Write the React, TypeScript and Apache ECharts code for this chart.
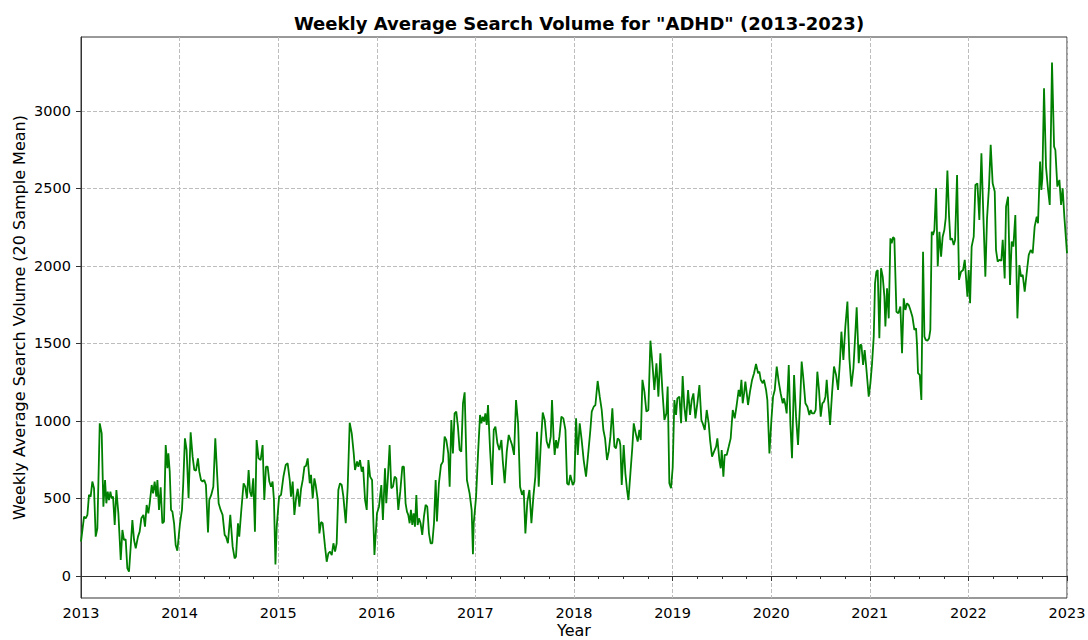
import React, { useEffect, useRef } from "react";
import * as echarts from "echarts";

const titleText = 'Weekly Average Search Volume for "ADHD" (2013-2023)';
const xName = "Year";
const yName = "Weekly Average Search Volume (20 Sample Mean)";
const yTicks = [0, 500, 1000, 1500, 2000, 2500, 3000];

// [decimal year, weekly average search volume]
const y2013: [number, number][] = [[2013.000,221],[2013.031,383],[2013.048,372],[2013.065,394],[2013.081,523],[2013.098,512],[2013.115,609],[2013.132,566],[2013.149,254],[2013.166,308],[2013.190,985],[2013.210,920],[2013.227,447],[2013.244,619],[2013.257,469],[2013.271,544],[2013.284,490],[2013.298,544],[2013.311,501],[2013.325,512],[2013.342,329],[2013.359,555],[2013.379,404],[2013.403,103],[2013.420,297],[2013.436,232],[2013.453,237],[2013.470,49],[2013.487,28],[2013.504,189],[2013.521,361],[2013.538,232],[2013.555,178],[2013.578,254],[2013.595,286],[2013.612,372],[2013.633,394],[2013.649,318],[2013.666,458],[2013.683,404],[2013.697,469],[2013.717,587],[2013.731,533],[2013.747,609],[2013.764,512],[2013.775,619],[2013.791,426],[2013.808,572],[2013.825,340],[2013.842,351],[2013.859,845],[2013.876,695],[2013.886,791],[2013.900,673],[2013.913,426],[2013.927,415],[2013.944,340],[2013.960,200],[2013.977,163]];
const y2014: [number, number][] = [[2014.004,340],[2014.024,426],[2014.037,598],[2014.054,888],[2014.071,813],[2014.091,501],[2014.112,927],[2014.132,770],[2014.149,684],[2014.166,680],[2014.186,759],[2014.200,673],[2014.217,619],[2014.233,609],[2014.250,619],[2014.267,587],[2014.288,280],[2014.301,490],[2014.321,523],[2014.342,576],[2014.362,888],[2014.382,641],[2014.396,469],[2014.416,426],[2014.436,394],[2014.457,265],[2014.470,254],[2014.490,211],[2014.514,394],[2014.538,189],[2014.558,114],[2014.572,125],[2014.592,340],[2014.605,254],[2014.626,426],[2014.649,598],[2014.666,576],[2014.683,501],[2014.700,684],[2014.714,544],[2014.730,512],[2014.747,630],[2014.764,286],[2014.781,877],[2014.801,759],[2014.822,748],[2014.842,845],[2014.859,490],[2014.876,705],[2014.893,705],[2014.910,609],[2014.927,576],[2014.943,609],[2014.957,490],[2014.972,75]];
const y2015: [number, number][] = [[2014.985,318],[2015.009,512],[2015.029,523],[2015.053,641],[2015.076,716],[2015.096,727],[2015.117,619],[2015.130,512],[2015.147,609],[2015.164,394],[2015.181,501],[2015.198,563],[2015.215,447],[2015.232,563],[2015.249,620],[2015.266,705],[2015.282,710],[2015.299,759],[2015.320,598],[2015.333,652],[2015.350,501],[2015.367,630],[2015.380,587],[2015.401,490],[2015.418,275],[2015.435,348],[2015.451,340],[2015.475,189],[2015.492,92],[2015.509,146],[2015.526,157],[2015.543,135],[2015.560,211],[2015.577,157],[2015.593,211],[2015.610,555],[2015.627,598],[2015.644,587],[2015.661,512],[2015.685,340],[2015.705,576],[2015.725,989],[2015.746,920],[2015.766,791],[2015.779,684],[2015.800,738],[2015.813,705],[2015.830,748],[2015.847,673],[2015.861,705],[2015.881,490],[2015.898,426],[2015.915,748],[2015.932,641],[2015.952,619],[2015.976,135]];
const y2016: [number, number][] = [[2016.002,404],[2016.022,447],[2016.046,587],[2016.062,361],[2016.083,695],[2016.096,469],[2016.113,641],[2016.130,845],[2016.147,566],[2016.164,576],[2016.181,641],[2016.198,630],[2016.218,426],[2016.238,544],[2016.259,705],[2016.275,705],[2016.292,469],[2016.306,415],[2016.319,394],[2016.333,340],[2016.346,426],[2016.360,329],[2016.373,404],[2016.387,318],[2016.401,523],[2016.414,329],[2016.428,372],[2016.444,340],[2016.461,265],[2016.478,383],[2016.495,458],[2016.512,447],[2016.529,275],[2016.546,211],[2016.563,211],[2016.580,340],[2016.597,619],[2016.610,351],[2016.630,598],[2016.651,716],[2016.671,738],[2016.688,899],[2016.705,877],[2016.725,791],[2016.739,576],[2016.756,1006],[2016.772,791],[2016.789,1049],[2016.806,1060],[2016.823,963],[2016.840,813],[2016.857,802],[2016.874,1114],[2016.891,1185],[2016.914,619],[2016.941,533],[2016.962,426],[2016.975,140]];
const y2017: [number, number][] = [[2016.983,340],[2017.007,512],[2017.027,791],[2017.047,1039],[2017.061,985],[2017.074,1028],[2017.088,996],[2017.101,1049],[2017.115,974],[2017.128,1103],[2017.149,813],[2017.169,587],[2017.186,942],[2017.203,963],[2017.223,856],[2017.243,813],[2017.264,877],[2017.277,748],[2017.297,598],[2017.318,802],[2017.338,910],[2017.355,877],[2017.372,845],[2017.392,781],[2017.412,1135],[2017.433,985],[2017.453,576],[2017.473,523],[2017.490,555],[2017.507,275],[2017.527,480],[2017.548,555],[2017.568,340],[2017.588,512],[2017.608,641],[2017.625,931],[2017.642,576],[2017.662,834],[2017.683,1054],[2017.703,1006],[2017.723,867],[2017.744,824],[2017.764,899],[2017.777,1135],[2017.794,877],[2017.804,781],[2017.818,877],[2017.832,824],[2017.852,899],[2017.872,1028],[2017.892,1017],[2017.913,942],[2017.930,598],[2017.946,587],[2017.963,652]];
const y2018: [number, number][] = [[2017.987,587],[2018.004,609],[2018.021,1017],[2018.038,781],[2018.058,985],[2018.078,877],[2018.098,748],[2018.122,641],[2018.146,802],[2018.166,942],[2018.180,1060],[2018.200,1092],[2018.217,1103],[2018.240,1258],[2018.261,1157],[2018.281,1071],[2018.298,942],[2018.315,888],[2018.335,748],[2018.352,802],[2018.369,899],[2018.389,1082],[2018.410,834],[2018.426,824],[2018.443,888],[2018.460,877],[2018.470,845],[2018.484,587],[2018.504,845],[2018.521,662],[2018.538,555],[2018.552,490],[2018.572,662],[2018.592,834],[2018.606,985],[2018.626,920],[2018.646,867],[2018.663,942],[2018.677,877],[2018.694,1265],[2018.714,1189],[2018.734,1060],[2018.754,1071],[2018.775,1518],[2018.795,1372],[2018.815,1200],[2018.836,1372],[2018.856,1157],[2018.876,1437],[2018.896,1200],[2018.917,1006],[2018.937,1049],[2018.950,1222],[2018.967,598],[2018.984,566]];
const y2019: [number, number][] = [[2019.001,700],[2019.018,1135],[2019.035,1039],[2019.048,1146],[2019.069,1157],[2019.086,985],[2019.102,1290],[2019.119,1092],[2019.136,996],[2019.157,1200],[2019.177,1039],[2019.194,1135],[2019.211,1178],[2019.231,1017],[2019.251,1114],[2019.272,1232],[2019.292,1006],[2019.305,985],[2019.326,942],[2019.346,1071],[2019.366,985],[2019.380,877],[2019.400,770],[2019.420,802],[2019.441,834],[2019.454,888],[2019.474,748],[2019.488,695],[2019.498,813],[2019.515,640],[2019.528,781],[2019.549,781],[2019.569,834],[2019.589,888],[2019.610,1071],[2019.630,1017],[2019.650,1103],[2019.670,1200],[2019.684,1157],[2019.698,1265],[2019.711,1114],[2019.725,1178],[2019.738,1254],[2019.752,1178],[2019.765,1103],[2019.785,1189],[2019.806,1265],[2019.826,1308],[2019.846,1368],[2019.867,1308],[2019.880,1318],[2019.894,1265],[2019.914,1243],[2019.927,1265],[2019.948,1200],[2019.961,1135],[2019.982,791]];
const y2020: [number, number][] = [[2020.002,1006],[2020.019,1157],[2020.036,1200],[2020.056,1351],[2020.076,1254],[2020.096,1178],[2020.117,1114],[2020.130,1146],[2020.144,1103],[2020.157,1049],[2020.178,1361],[2020.195,974],[2020.211,759],[2020.232,1297],[2020.252,1028],[2020.272,845],[2020.293,1114],[2020.309,1383],[2020.326,1275],[2020.347,1114],[2020.367,1092],[2020.387,1039],[2020.401,1071],[2020.414,1049],[2020.435,1049],[2020.451,1071],[2020.468,1318],[2020.485,1200],[2020.502,1028],[2020.519,1114],[2020.536,1125],[2020.550,1157],[2020.563,1265],[2020.577,1135],[2020.597,974],[2020.617,1178],[2020.637,1351],[2020.658,1297],[2020.678,1200],[2020.698,1394],[2020.712,1576],[2020.732,1394],[2020.752,1609],[2020.773,1770],[2020.793,1404],[2020.813,1222],[2020.834,1340],[2020.854,1576],[2020.867,1733],[2020.888,1372],[2020.901,1490],[2020.915,1490],[2020.932,1361],[2020.948,1458],[2020.962,1361]];
const y2021: [number, number][] = [[2020.989,1157],[2021.006,1243],[2021.023,1372],[2021.040,1544],[2021.053,1888],[2021.067,1963],[2021.080,1974],[2021.097,1533],[2021.114,1985],[2021.131,1931],[2021.148,1802],[2021.158,1609],[2021.175,1856],[2021.192,1662],[2021.209,2178],[2021.222,2146],[2021.236,2185],[2021.249,2178],[2021.270,1705],[2021.290,1695],[2021.310,1738],[2021.327,1437],[2021.344,1791],[2021.361,1716],[2021.378,1759],[2021.395,1748],[2021.412,1716],[2021.432,1673],[2021.452,1587],[2021.469,1598],[2021.479,1490],[2021.489,1308],[2021.506,1297],[2021.523,1135],[2021.540,2092],[2021.554,1544],[2021.567,1523],[2021.584,1518],[2021.601,1533],[2021.614,1587],[2021.628,2221],[2021.641,2200],[2021.655,2232],[2021.672,2501],[2021.689,1996],[2021.706,2221],[2021.723,2060],[2021.739,2189],[2021.756,2232],[2021.770,2308],[2021.787,2615],[2021.804,2318],[2021.817,2168],[2021.834,2178],[2021.851,2135],[2021.865,2168],[2021.885,2587],[2021.905,1910],[2021.925,1963],[2021.946,1974],[2021.963,2039]];
const y2022: [number, number][] = [[2021.990,1802],[2022.003,1974],[2022.017,1759],[2022.033,2125],[2022.054,2189],[2022.071,2523],[2022.091,2533],[2022.111,2297],[2022.132,2727],[2022.152,2318],[2022.172,1931],[2022.189,2308],[2022.209,2512],[2022.226,2781],[2022.246,2533],[2022.267,2480],[2022.280,2103],[2022.297,2028],[2022.314,2039],[2022.334,2034],[2022.348,2168],[2022.368,1920],[2022.382,2383],[2022.402,2447],[2022.422,1877],[2022.439,2157],[2022.456,2125],[2022.476,2329],[2022.497,1662],[2022.517,2006],[2022.534,1931],[2022.551,1942],[2022.571,1834],[2022.591,1953],[2022.612,2071],[2022.632,2103],[2022.652,2082],[2022.672,2254],[2022.693,2318],[2022.706,2275],[2022.727,2673],[2022.740,2490],[2022.750,2566],[2022.767,3146],[2022.787,2641],[2022.808,2490],[2022.825,2394],[2022.848,3312],[2022.869,2770],[2022.882,2748],[2022.902,2512],[2022.923,2555],[2022.940,2394],[2022.956,2501],[2022.973,2318],[2023.000,2082]];

const FONT = "DejaVu Sans";

export default function App() {
  const ref = useRef<HTMLDivElement>(null);
  useEffect(() => {
    if (!ref.current) return;
    const chart = echarts.init(ref.current, undefined, { renderer: "svg" });
    const data = [
      ...y2013, ...y2014, ...y2015, ...y2016, ...y2017,
      ...y2018, ...y2019, ...y2020, ...y2021, ...y2022,
    ];
    const gridLine = { show: true, lineStyle: { type: [4, 2] as any, color: "#bdbdbd", width: 1 } };
    chart.setOption({
      animation: false,
      backgroundColor: "#ffffff",
      title: {
        text: titleText,
        left: 574,
        textAlign: "center",
        top: 9,
        textStyle: { fontFamily: FONT, fontWeight: "bold", fontSize: 18, color: "#000" },
      },
      grid: {
        left: 81, right: 21, top: 37, bottom: 42,
        outerBoundsMode: "none",
        containLabel: false,
        show: true, borderColor: "#333", borderWidth: 1, backgroundColor: "transparent",
      },
      xAxis: {
        type: "value",
        min: 2013,
        max: 2023,
        interval: 1,
        name: xName,
        nameLocation: "middle",
        nameGap: 24,
        nameMoveOverlap: false,
        nameTextStyle: { fontFamily: FONT, fontSize: 16, lineHeight: 16, color: "#000" },
        axisLine: { show: true, lineStyle: { color: "#333", width: 1 } },
        axisTick: { show: true, length: 5, lineStyle: { color: "#333" } },
        minorTick: { show: true, splitNumber: 4, length: 3, lineStyle: { color: "#333" } },
        axisLabel: {
          margin: 7, fontFamily: FONT, fontSize: 14.5, color: "#000",
          formatter: (v: number) => String(v),
        },
        splitLine: gridLine,
      },
      yAxis: {
        type: "value",
        min: -142,
        max: 3477,
        name: yName,
        nameLocation: "middle",
        nameGap: 54,
        nameMoveOverlap: false,
        nameTextStyle: { fontFamily: FONT, fontSize: 16, color: "#000" },
        axisLine: { show: true, lineStyle: { color: "#333", width: 1 } },
        axisTick: { show: true, length: 5, customValues: yTicks, lineStyle: { color: "#333" } },
        axisLabel: {
          customValues: yTicks, margin: 10, fontFamily: FONT, fontSize: 14.5, color: "#000",
          formatter: (v: number) => String(v),
        },
        splitLine: gridLine,
      },
      series: [
        {
          type: "line",
          data,
          showSymbol: false,
          symbol: "none",
          lineStyle: { color: "#008000", width: 1.8 },
          itemStyle: { color: "#008000" },
          clip: true,
        },
      ],
    });
    return () => chart.dispose();
  }, []);
  return (
    <div
      ref={ref}
      style={{ position: "fixed", left: 0, top: 0, width: 1088, height: 640, background: "#fff" }}
    />
  );
}
